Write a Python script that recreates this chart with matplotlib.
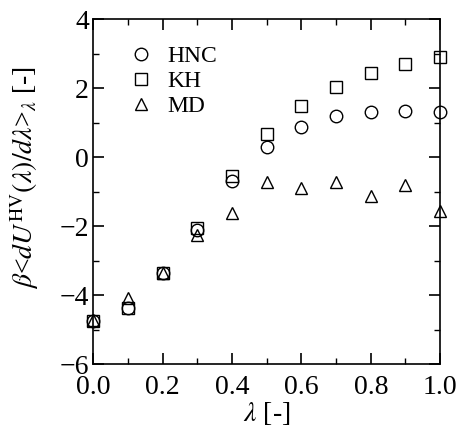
import matplotlib.pyplot as plt
import numpy as np

plt.rcParams['font.family'] = 'Liberation Serif'
plt.rcParams['mathtext.fontset'] = 'stix'

lam = [0.0, 0.1, 0.2, 0.3, 0.4, 0.5, 0.6, 0.7, 0.8, 0.9, 1.0]
hnc = [-4.76, -4.38, -3.37, -2.10, -0.68, 0.28, 0.86, 1.18, 1.32, 1.34, 1.31]
kh = [-4.76, -4.38, -3.37, -2.05, -0.54, 0.67, 1.49, 2.04, 2.45, 2.71, 2.90]
md = [-4.72, -4.08, -3.37, -2.25, -1.62, -0.73, -0.90, -0.73, -1.14, -0.81, -1.55]

fig = plt.figure(figsize=(4.59, 4.34), dpi=100)
ax = fig.add_axes([0.203, 0.161, 0.756, 0.795])

ax.plot(lam, hnc, 'o', mfc='none', mec='black', ms=9, mew=1.0, label='HNC', clip_on=False)
ax.plot(lam, kh, 's', mfc='none', mec='black', ms=9, mew=1.0, label='KH', clip_on=False)
ax.plot(lam, md, '^', mfc='none', mec='black', ms=9, mew=1.0, label='MD', clip_on=False)

ax.set_xlim(0, 1)
ax.set_ylim(-6, 4)
ax.set_xticks(np.arange(0, 1.01, 0.2))
ax.set_xticks(np.arange(0, 1.01, 0.1), minor=True)
ax.set_yticks(np.arange(-6, 4.1, 2))
ax.set_yticks(np.arange(-6, 4.1, 1), minor=True)
ax.set_xticklabels(['0.0', '0.2', '0.4', '0.6', '0.8', '1.0'])
ax.tick_params(which='both', direction='in', top=True, right=True, labelsize=20)
ax.tick_params(axis='y', pad=3)
ax.tick_params(axis='x', pad=8)
ax.tick_params(which='major', length=8, width=1.2)
ax.tick_params(which='minor', length=4, width=1.0)
for s in ax.spines.values():
    s.set_linewidth(1.2)

ax.set_xlabel(r'$\lambda$ [-]', fontsize=20, labelpad=0)
ax.set_ylabel(r'$\beta$<$dU^{\mathrm{HV}}(\lambda)/d\lambda$>$_{\lambda}$ [-]', fontsize=20)
ax.yaxis.set_label_coords(-0.15, 0.54)

ax.legend(loc='upper left', bbox_to_anchor=(0.07, 0.95), frameon=False, fontsize=17,
          handletextpad=0.5, borderaxespad=0.0, labelspacing=0.15, handlelength=1.2)

fig.savefig('out.png', dpi=100)
